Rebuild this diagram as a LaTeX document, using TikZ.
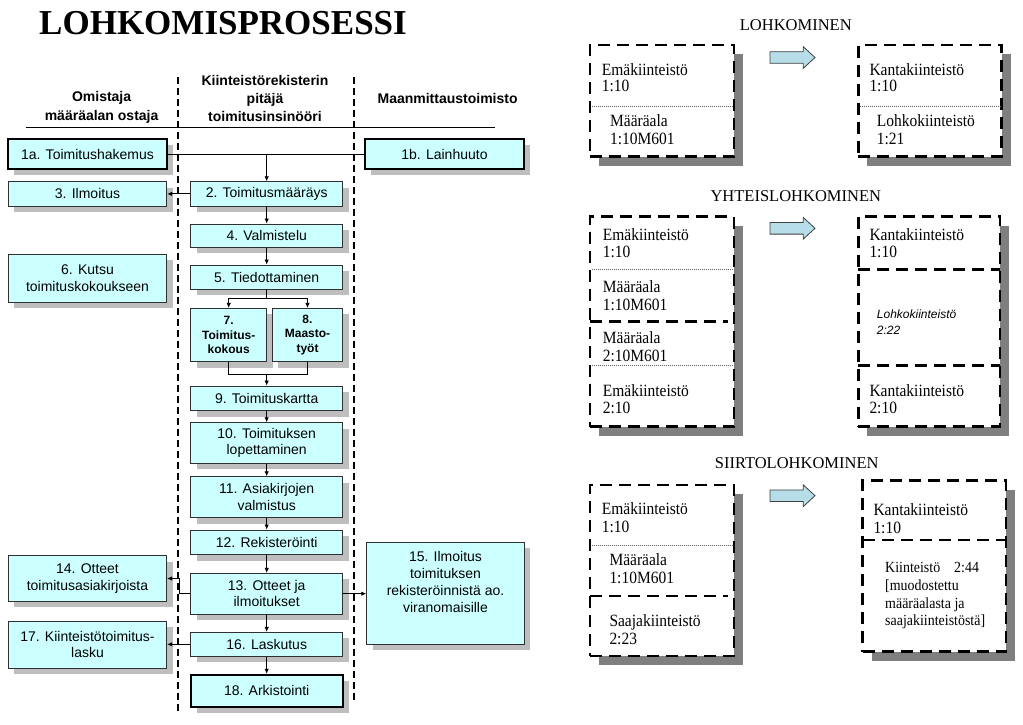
\documentclass[tikz,border=0pt]{standalone}
\usepackage{fontspec}
\setmainfont{Liberation Serif}
\setsansfont{Liberation Sans}
\newfontfamily\pserif[FakeStretch=0.9]{Liberation Serif}
\usetikzlibrary{arrows.meta,shadows}
\definecolor{boxfill}{HTML}{CCFFFF}
\definecolor{shlight}{HTML}{BEBEBE}
\definecolor{shdark}{HTML}{7F7F7F}
\definecolor{arrowfill}{HTML}{B7DEE8}
\definecolor{boxline}{HTML}{303030}
\begin{document}
\begin{tikzpicture}[x=1pt,y=-1pt,
  fbox/.style={draw=boxline, fill=boxfill, line width=0.9pt, inner sep=0pt, align=center,
     font=\sffamily\fontsize{14}{16.5}\selectfont,
     drop shadow={shadow xshift=6pt, shadow yshift=-6pt, fill=shlight, opacity=1}},
  thickbox/.style={line width=1.8pt, draw=black},
  mid/.style={fbox, minimum width=152pt},
  lft/.style={fbox, minimum width=158.4pt},
  sbox/.style={fbox, font=\sffamily\bfseries\fontsize{12}{14.5}\selectfont},
  hdr/.style={align=center, inner sep=0pt, font=\sffamily\bfseries\fontsize{14}{18.3}\selectfont},
  arr/.style={-{Latex[length=5pt,width=4.5pt]}, line width=0.8pt, draw=black},
  conn/.style={line width=0.8pt, draw=black},
  lane/.style={line width=1.2pt, dash pattern=on 7pt off 4pt},
  pbox/.style={draw=black, line width=2.6pt, dash pattern=on 12pt off 7pt, fill=white, inner sep=0pt,
     drop shadow={shadow xshift=9pt, shadow yshift=-9pt, fill=shdark, opacity=1}},
  pdash/.style={draw=black, line width=2.6pt, dash pattern=on 12pt off 7pt},
  pdot/.style={draw=black!60, line width=0.6pt, dash pattern=on 0.8pt off 1.2pt},
  ptext/.style={anchor=base west, inner sep=0pt, font=\pserif\fontsize{17.2}{19}\selectfont},
  psmall/.style={anchor=base west, inner sep=0pt, font=\pserif\fontsize{15.5}{17}\selectfont},
  pital/.style={anchor=base west, inner sep=0pt, font=\sffamily\itshape\fontsize{12}{14}\selectfont},
  ptitle/.style={anchor=base, inner sep=0pt, font=\fontsize{16.5}{18}\selectfont},
  barrow/.style={fill=arrowfill, draw=black!75, line width=0.8pt, line join=miter},
]
\useasboundingbox (0,0) rectangle (1023,724);
\fill[white] (0,0) rectangle (1023,724);

% ---------- title ----------
\node[anchor=base west, inner sep=0pt, font=\bfseries\fontsize{35}{40}\selectfont] (title) at (39,34) {LOHKOMISPROSESSI};

% ---------- lanes ----------
\coordinate (l1t) at (178,76.7); \coordinate (l1b) at (178,711);
\coordinate (l2t) at (354,76.7); \coordinate (l2b) at (354,702);
\draw[lane] (l1t) -- (l1b);
\draw[lane] (l2t) -- (l2b);
\coordinate (rl) at (26,127.3); \coordinate (rr) at (495,127.3);
\draw[line width=0.9pt] (rl) -- (rr);

\node[hdr] (hL) at (101.6,107.5) {Omistaja\\määräalan ostaja};
\node[hdr] (hM) at (265,98.3) {Kiinteistörekisterin\\pitäjä\\toimitusinsinööri};
\node[hdr] (hR) at (447.6,98.3) {Maanmittaustoimisto};

% ---------- flow boxes ----------
\node[lft, thickbox, minimum height=30pt] (n1a) at (87.5,154.3) {1a. Toimitushakemus};
\node[fbox, thickbox, minimum width=159pt, minimum height=30pt] (n1b) at (444.5,154.3) {1b. Lainhuuto};
\node[mid, minimum height=24.3pt] (n2) at (266.7,193.85) {2. Toimitusmääräys};
\node[lft, minimum height=24.3pt] (n3) at (87.5,193.85) {3. Ilmoitus};
\node[mid, minimum height=23.3pt] (n4) at (266.7,235.65) {4. Valmistelu};
\node[mid, minimum height=24.3pt] (n5) at (266.7,277.15) {5. Tiedottaminen};
\node[lft, minimum height=48pt] (n6) at (87.5,278.3) {6. Kutsu\\toimituskokoukseen};
\node[sbox, minimum width=76pt, minimum height=53.4pt] (n7) at (228.7,335) {7.\\Toimitus-\\kokous};
\node[sbox, minimum width=70.4pt, minimum height=53.4pt] (n8) at (307.5,335) {8.\\Maasto-\\työt};
\node[mid, minimum height=24.7pt] (n9) at (266.7,398.35) {9. Toimituskartta};
\node[mid, minimum height=40.6pt] (n10) at (266.7,443) {10. Toimituksen\\lopettaminen};
\node[mid, minimum height=41pt] (n11) at (266.7,497.2) {11. Asiakirjojen\\valmistus};
\node[mid, minimum height=24.7pt] (n12) at (266.7,542.35) {12. Rekisteröinti};
\node[mid, minimum height=40.7pt] (n13) at (266.7,593.65) {13. Otteet ja\\ilmoitukset};
\node[lft, minimum height=45.6pt] (n14) at (87.5,578.5) {14. Otteet\\toimitusasiakirjoista};
\node[fbox, minimum width=157.6pt, minimum height=101.7pt] (n15) at (445.5,593.15) {};
\node[anchor=north, inner sep=0pt, align=center, font=\sffamily\fontsize{14}{17}\selectfont] (n15t) at (445.5,551.5) {15. Ilmoitus\\toimituksen\\rekisteröinnistä ao.\\viranomaisille};
\node[mid, minimum height=24pt] (n16) at (266.7,644.3) {16. Laskutus};
\node[lft, minimum height=46.7pt] (n17) at (87.5,644.65) {17. Kiinteistötoimitus-\\lasku};
\node[mid, thickbox, minimum height=32pt] (n18) at (266.7,690.7) {18. Arkistointi};

% ---------- connectors ----------
\draw[conn] (n1a.east) -- (n1b.west);
\coordinate (j1) at (266.7,154.3);
\draw[arr] (j1) -- (n2.north);
\draw[arr] (n2.west) -- (n3.east);
\draw[arr] (n2.south) -- (n4.north);
\draw[arr] (n4.south) -- (n5.north);
\coordinate (fk) at (266.7,298.3);
\draw[conn] (n5.south) -- (fk);
\draw[arr] (fk) -| (n7.north);
\draw[arr] (fk) -| (n8.north);
\coordinate (jn) at (266.7,374);
\draw[conn] (n7.south) |- (jn);
\draw[conn] (n8.south) |- (jn);
\draw[arr] (jn) -- (n9.north);
\draw[arr] (n9.south) -- (n10.north);
\draw[arr] (n10.south) -- (n11.north);
\draw[arr] (n11.south) -- (n12.north);
\draw[arr] (n12.south) -- (n13.north);
\draw[arr] (n13.south) -- (n16.north);
\draw[arr] (n16.south) -- (n18.north);
\coordinate (e14a) at (179,593.65);
\coordinate (e14b) at (179,578.5);
\draw[arr] (n13.west) -- (e14a) -- (e14b) -- (n14.east);
\draw[arr] (n13.east) -- (n13.east -| n15.west);
\draw[arr] (n16.west) -- (n16.west -| n17.east);

% ---------- right panels ----------
\node[ptitle] (t1) at (795.8,30) {LOHKOMINEN};
\node[ptitle] (t2) at (795.8,201.7) {YHTEISLOHKOMINEN};
\node[ptitle] (t3) at (796.7,468.3) {SIIRTOLOHKOMINEN};

\node[pbox, minimum width=144pt, minimum height=111.7pt] (p1l) at (662,100.85) {};
\node[pbox, minimum width=143.4pt, minimum height=111.7pt] (p1r) at (930,100.85) {};
\node[pbox, minimum width=144pt, minimum height=210pt] (p2l) at (662,321.7) {};
\node[pbox, minimum width=141.7pt, minimum height=210pt] (p2r) at (929.15,321.7) {};
\node[pbox, minimum width=144pt, minimum height=171pt] (p3l) at (662,570.5) {};
\node[pbox, minimum width=143.3pt, minimum height=171pt] (p3r) at (934.35,566.2) {};

% dividers
\draw[pdot] (591.5,106) -- (732.5,106);
\draw[pdot] (859.8,106) -- (1000.2,106);
\draw[pdot] (591.5,269.3) -- (732.5,269.3);
\draw[pdash] (590,321.7) -- (728,321.7);
\draw[pdot] (591.5,365.7) -- (732.5,365.7);
\draw[pdash] (858.3,269.3) -- (1000,269.3);
\draw[pdash] (858.3,365.7) -- (1000,365.7);
\draw[pdot] (591.5,545) -- (732.5,545);
\draw[pdash] (590,596) -- (728,596);
\draw[pdash] (862.7,540) -- (1006,540);

% block arrows
\draw[barrow] (770,51.7) -- ++(33.3,0) -- ++(0,-5) -- ++(11.7,10.8) -- ++(-11.7,10.8) -- ++(0,-5) -- ++(-33.3,0) -- cycle;
\draw[barrow] (770,222.5) -- ++(33.3,0) -- ++(0,-5) -- ++(11.7,10.8) -- ++(-11.7,10.8) -- ++(0,-5) -- ++(-33.3,0) -- cycle;
\draw[barrow] (770,489.9) -- ++(33.3,0) -- ++(0,-5) -- ++(11.7,10.8) -- ++(-11.7,10.8) -- ++(0,-5) -- ++(-33.3,0) -- cycle;

% panel 1 texts
\node[ptext] (a1) at (601.7,75) {Emäkiinteistö};
\node[ptext] (a2) at (601.7,91.7) {1:10};
\node[ptext] (a3) at (610,126) {Määräala};
\node[ptext] (a4) at (610,144) {1:10M601};
\node[ptext] (b1) at (869.3,75) {Kantakiinteistö};
\node[ptext] (b2) at (869.3,91.7) {1:10};
\node[ptext] (b3) at (876.7,126) {Lohkokiinteistö};
\node[ptext] (b4) at (876.7,144) {1:21};

% panel 2 texts
\node[ptext] (c1) at (602.7,240) {Emäkiinteistö};
\node[ptext] (c2) at (602.7,257.3) {1:10};
\node[ptext] (c3) at (602.7,292.7) {Määräala};
\node[ptext] (c4) at (602.7,310) {1:10M601};
\node[ptext] (c5) at (602.7,343.3) {Määräala};
\node[ptext] (c6) at (602.7,361.7) {2:10M601};
\node[ptext] (c7) at (602.7,396) {Emäkiinteistö};
\node[ptext] (c8) at (602.7,413.3) {2:10};
\node[ptext] (d1) at (869.3,240) {Kantakiinteistö};
\node[ptext] (d2) at (869.3,257.3) {1:10};
\node[pital] (d3) at (876.7,318.3) {Lohkokiinteistö};
\node[pital] (d4) at (876.7,334) {2:22};
\node[ptext] (d5) at (869.3,396) {Kantakiinteistö};
\node[ptext] (d6) at (869.3,413.3) {2:10};

% panel 3 texts
\node[ptext] (e1) at (601.7,514) {Emäkiinteistö};
\node[ptext] (e2) at (601.7,532.7) {1:10};
\node[ptext] (e3) at (609.3,565) {Määräala};
\node[ptext] (e4) at (609.3,583.3) {1:10M601};
\node[ptext] (e5) at (609.3,626) {Saajakiinteistö};
\node[ptext] (e6) at (609.3,644) {2:23};
\node[ptext] (f1) at (873.3,515) {Kantakiinteistö};
\node[ptext] (f2) at (873.3,533.3) {1:10};
\node[psmall] (f3) at (885,572.7) {Kiinteistö\hspace{14pt}2:44};
\node[psmall] (f4) at (885,590) {[muodostettu};
\node[psmall] (f5) at (885,608.3) {määräalasta ja};
\node[psmall] (f6) at (885,625.7) {saajakiinteistöstä]};
\end{tikzpicture}
\end{document}
